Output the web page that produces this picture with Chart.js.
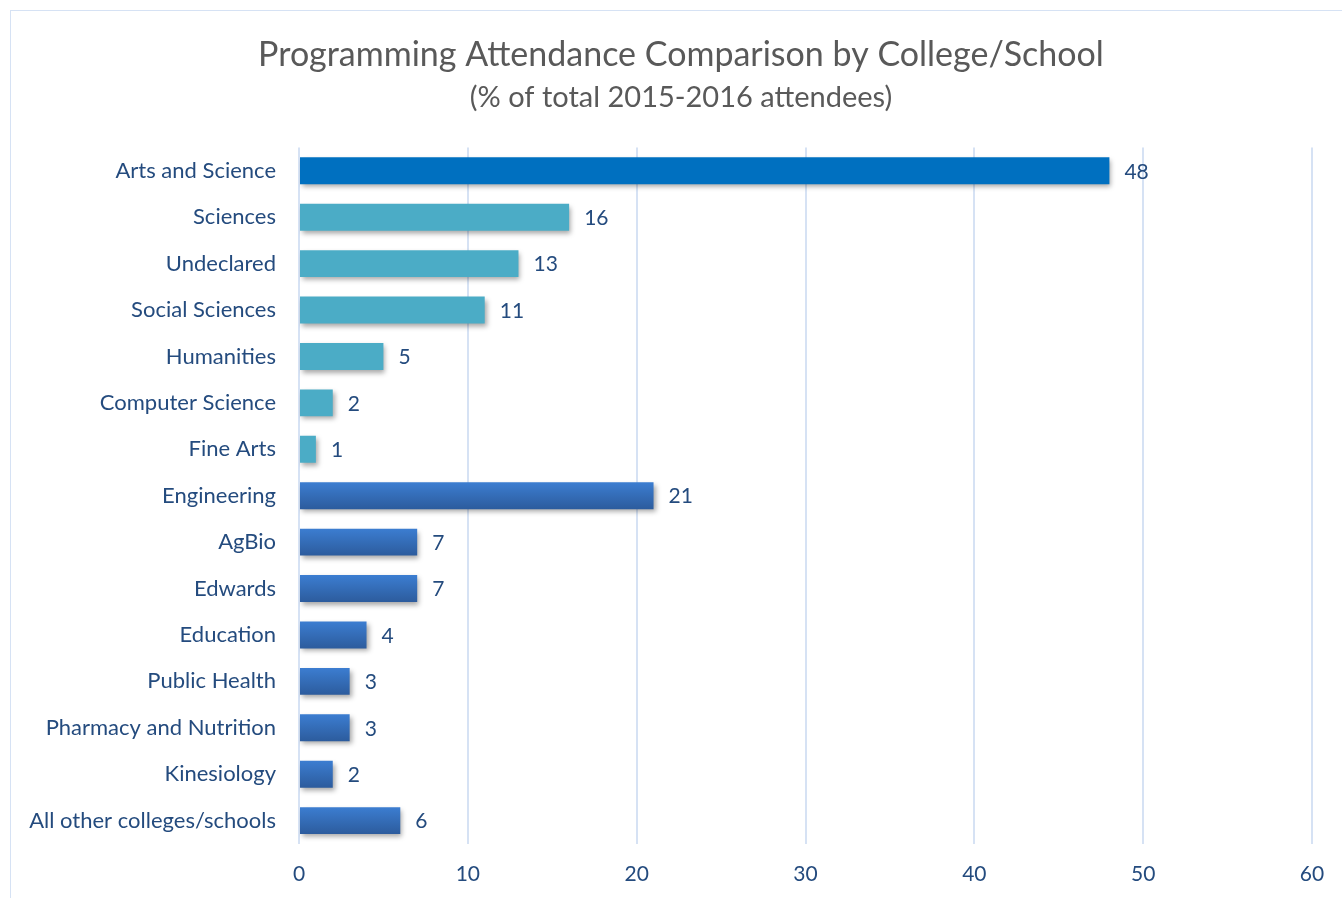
<!DOCTYPE html>
<html>
<head>
<meta charset="utf-8">
<script src="https://cdn.jsdelivr.net/npm/chart.js"></script>
<style>
  html, body { margin: 0; padding: 0; background: #fff; overflow: hidden; }
  #frame { position: absolute; left: 10px; top: 10px; width: 1345px; height: 900px; border: 1px solid #D6E2F4; }
  #wrap { position: absolute; left: 0; top: 0; width: 1362px; height: 898px; }
</style>
</head>
<body>
<div id="frame"></div>
<div id="wrap"><canvas id="attendance"></canvas></div>
<script>
const attendance = document.getElementById('attendance');

let colleges = ['Arts and Science', 'Sciences', 'Undeclared', 'Social Sciences', 'Humanities',
  'Computer Science', 'Fine Arts', 'Engineering', 'AgBio', 'Edwards', 'Education',
  'Public Health', 'Pharmacy and Nutrition', 'Kinesiology', 'All other colleges/schools'];
let percentages = [48, 16, 13, 11, 5, 2, 1, 21, 7, 7, 4, 3, 3, 2, 6];
// 0 = whole college, 1 = departments inside Arts and Science, 2 = other colleges
let groups = [0, 1, 1, 1, 1, 1, 1, 2, 2, 2, 2, 2, 2, 2, 2];

const textBlue = '#244B7E';
const fontName = 'Lato, "Open Sans", sans-serif';

function barColor(ctx) {
  let g = groups[ctx.dataIndex];
  if (g == 0) return '#0070C0';
  if (g == 1) return '#4BACC6';
  let chart = ctx.chart;
  let yScale = chart.scales.y;
  if (!chart.chartArea || !yScale) return '#3468B4';
  let y = yScale.getPixelForValue(ctx.dataIndex);
  let grad = chart.ctx.createLinearGradient(0, y - 14, 0, y + 14);
  grad.addColorStop(0, '#3C7ED2');
  grad.addColorStop(1, '#2C5B9C');
  return grad;
}

/* shadow under the bars */
const barShadow = {
  id: 'barShadow',
  beforeDatasetsDraw(chart) {
    chart.ctx.save();
    chart.ctx.shadowColor = 'rgba(0,0,0,0.35)';
    chart.ctx.shadowBlur = 5;
    chart.ctx.shadowOffsetX = 2;
    chart.ctx.shadowOffsetY = 3;
  },
  afterDatasetsDraw(chart) {
    chart.ctx.restore();
  }
};

/* value labels next to each bar */
const valueLabels = {
  id: 'valueLabels',
  afterDatasetsDraw(chart) {
    let ctx = chart.ctx;
    let meta = chart.getDatasetMeta(0);
    ctx.save();
    ctx.fillStyle = textBlue;
    ctx.font = '21px ' + fontName;
    ctx.textAlign = 'left';
    ctx.textBaseline = 'middle';
    meta.data.forEach(function (bar, i) {
      ctx.fillText(percentages[i], bar.x + 15, bar.y + 1);
    });
    ctx.restore();
  }
};

new Chart(attendance, {
  type: 'bar',
  data: {
    labels: colleges,
    datasets: [{
      label: '% of total 2015-2016 attendees',
      data: percentages,
      backgroundColor: barColor,
      borderWidth: 0,
      barPercentage: 0.58,
      categoryPercentage: 1
    }]
  },
  options: {
    indexAxis: 'y',
    responsive: true,
    maintainAspectRatio: false,
    animation: false,
    layout: { padding: { left: 0, right: 0, top: 35, bottom: -7 } },
    plugins: {
      legend: { display: false },
      tooltip: { enabled: false },
      title: {
        display: true,
        text: 'Programming Attendance Comparison by College/School',
        color: '#595959',
        font: { family: fontName, size: 34, weight: 'normal' },
        padding: { top: 0, bottom: 4 }
      },
      subtitle: {
        display: true,
        text: '(% of total 2015-2016 attendees)',
        color: '#595959',
        font: { family: fontName, size: 29, weight: 'normal' },
        padding: { top: 0, bottom: 33 }
      }
    },
    scales: {
      x: {
        min: 0,
        max: 60,
        ticks: { stepSize: 10, color: textBlue, padding: 18, font: { family: fontName, size: 21 } },
        grid: { color: '#D6E2F4', lineWidth: 2, drawTicks: false },
        border: { display: false }
      },
      y: {
        ticks: { color: textBlue, padding: 15, font: { family: fontName, size: 22 } },
        grid: { display: false },
        border: { display: false },
        afterFit(scale) { scale.width = 299; }
      },
      // empty right-hand axis, only there to leave room right of the plot
      yRight: {
        type: 'linear',
        axis: 'y',
        position: 'right',
        min: 0,
        max: 1,
        ticks: { display: false },
        grid: { display: false },
        border: { display: false },
        afterFit(scale) { scale.width = 50; }
      }
    }
  },
  plugins: [barShadow, valueLabels]
});
</script>
</body>
</html>
